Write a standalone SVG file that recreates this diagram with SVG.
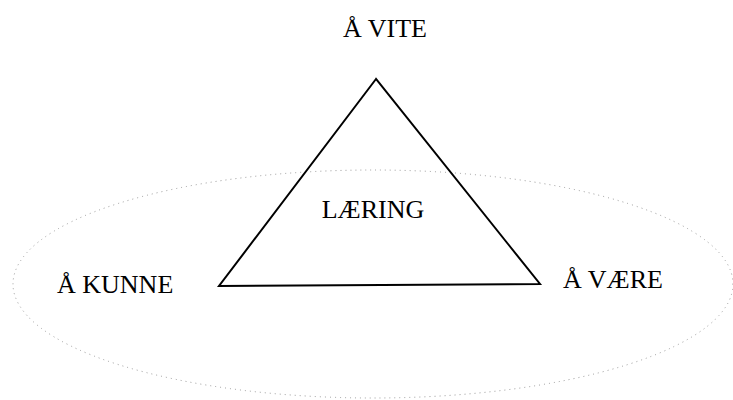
<svg xmlns="http://www.w3.org/2000/svg" width="733" height="400" viewBox="0 0 733 400">
<style>
.lbl{font-family:"Liberation Serif","Times New Roman",serif;font-size:26px;fill:#000}
.ell{fill:none;stroke:#9a9a9a;stroke-width:1;stroke-dasharray:1 4}
.tri{fill:none;stroke:#000;stroke-width:2;stroke-linejoin:miter}
</style>
<rect width="733" height="400" fill="#fff"/>
<g id="ellipse"><ellipse class="ell" cx="373" cy="284" rx="360" ry="114"/></g>
<g id="triangle"><polygon class="tri" points="376,79 219,286 540,284"/></g>
<g id="vite"><text class="lbl" x="385" y="37" text-anchor="middle">Å VITE</text></g>
<g id="laering"><text class="lbl" x="373" y="218" text-anchor="middle">LÆRING</text></g>
<g id="kunne"><text class="lbl" x="57" y="293">Å KUNNE</text></g>
<g id="vaere"><text class="lbl" x="563" y="288">Å VÆRE</text></g>
<g id="connectors"></g>
</svg>
